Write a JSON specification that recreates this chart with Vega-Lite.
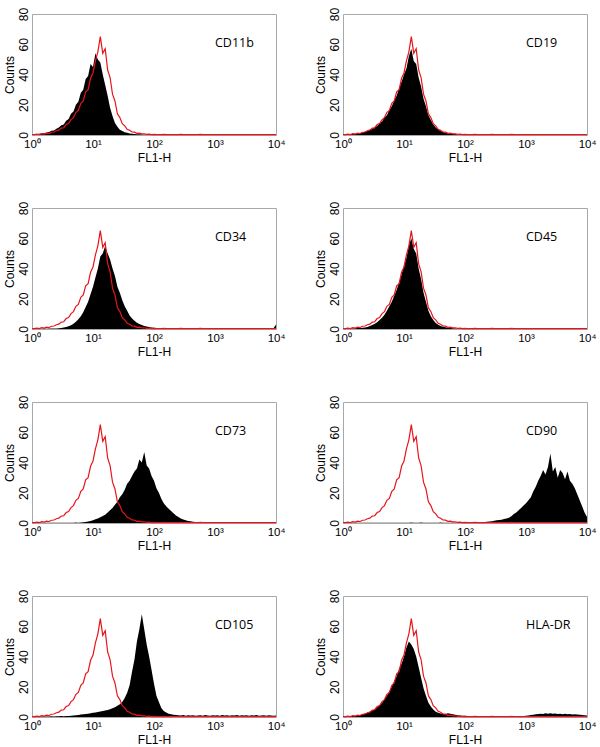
{
"$schema": "https://vega.github.io/schema/vega-lite/v6.json",
"padding": {"left": 2, "top": 6, "right": 3, "bottom": 0},
"datasets": {"h": [
{"x":1,"iso":0.3,"CD11b":0.3,"CD19":0.2,"CD34":0.1,"CD45":0.2,"CD73":0.1,"CD90":0.1,"CD105":0.2,"HLA-DR":0.2},
{"x":1.096,"iso":0.2,"CD11b":0.5,"CD19":0.3,"CD34":0.2,"CD45":0.2,"CD73":0.2,"CD90":0.1,"CD105":0.3,"HLA-DR":0.3},
{"x":1.202,"iso":0.6,"CD11b":0.4,"CD19":0.2,"CD34":0.1,"CD45":0.3,"CD73":0.1,"CD90":0.2,"CD105":0.2,"HLA-DR":0.4},
{"x":1.318,"iso":0.3,"CD11b":0.8,"CD19":0.5,"CD34":0.2,"CD45":0.3,"CD73":0.2,"CD90":0.1,"CD105":0.3,"HLA-DR":0.5},
{"x":1.445,"iso":0.9,"CD11b":1.0,"CD19":0.6,"CD34":0.2,"CD45":0.4,"CD73":0.1,"CD90":0.1,"CD105":0.3,"HLA-DR":0.7},
{"x":1.585,"iso":0.6,"CD11b":1.2,"CD19":0.8,"CD34":0.3,"CD45":0.5,"CD73":0.2,"CD90":0.2,"CD105":0.4,"HLA-DR":0.9},
{"x":1.738,"iso":1.2,"CD11b":1.6,"CD19":1.0,"CD34":0.2,"CD45":0.6,"CD73":0.1,"CD90":0.1,"CD105":0.3,"HLA-DR":1.1},
{"x":1.905,"iso":1.0,"CD11b":2.0,"CD19":1.3,"CD34":0.3,"CD45":0.7,"CD73":0.2,"CD90":0.1,"CD105":0.4,"HLA-DR":1.4},
{"x":2.089,"iso":1.8,"CD11b":2.8,"CD19":1.6,"CD34":0.3,"CD45":0.8,"CD73":0.1,"CD90":0.2,"CD105":0.5,"HLA-DR":1.8},
{"x":2.291,"iso":2.0,"CD11b":3.0,"CD19":2.2,"CD34":0.3,"CD45":1.0,"CD73":0.2,"CD90":0.1,"CD105":0.4,"HLA-DR":2.3},
{"x":2.512,"iso":2.8,"CD11b":4.2,"CD19":2.6,"CD34":0.4,"CD45":1.4,"CD73":0.1,"CD90":0.1,"CD105":0.5,"HLA-DR":2.8},
{"x":2.754,"iso":3.2,"CD11b":5.0,"CD19":3.4,"CD34":0.5,"CD45":2.0,"CD73":0.2,"CD90":0.2,"CD105":0.5,"HLA-DR":3.5},
{"x":3.02,"iso":4.6,"CD11b":6.5,"CD19":4.0,"CD34":0.7,"CD45":2.6,"CD73":0.1,"CD90":0.1,"CD105":0.6,"HLA-DR":4.3},
{"x":3.311,"iso":4.8,"CD11b":7.0,"CD19":5.2,"CD34":1.0,"CD45":3.5,"CD73":0.2,"CD90":0.1,"CD105":0.5,"HLA-DR":5.2},
{"x":3.631,"iso":6.9,"CD11b":9.5,"CD19":6.0,"CD34":1.3,"CD45":4.5,"CD73":0.2,"CD90":0.2,"CD105":0.6,"HLA-DR":6.3},
{"x":3.981,"iso":7.6,"CD11b":10.5,"CD19":7.8,"CD34":1.8,"CD45":6.0,"CD73":0.1,"CD90":0.1,"CD105":0.6,"HLA-DR":7.8},
{"x":4.365,"iso":10.2,"CD11b":14,"CD19":9.0,"CD34":2.5,"CD45":7.5,"CD73":0.2,"CD90":0.1,"CD105":0.8,"HLA-DR":9.5},
{"x":4.786,"iso":11.5,"CD11b":15.5,"CD19":11.5,"CD34":3.5,"CD45":9.5,"CD73":0.2,"CD90":0.2,"CD105":1.0,"HLA-DR":11.5},
{"x":5.248,"iso":15,"CD11b":20,"CD19":13,"CD34":4.8,"CD45":12,"CD73":0.3,"CD90":0.1,"CD105":1.2,"HLA-DR":14},
{"x":5.754,"iso":16.2,"CD11b":22,"CD19":16.5,"CD34":6.5,"CD45":15,"CD73":0.2,"CD90":0.1,"CD105":1.4,"HLA-DR":17},
{"x":6.31,"iso":21,"CD11b":28,"CD19":19,"CD34":8.5,"CD45":18,"CD73":0.3,"CD90":0.2,"CD105":1.6,"HLA-DR":20},
{"x":6.918,"iso":22.5,"CD11b":30,"CD19":23,"CD34":11,"CD45":22,"CD73":0.5,"CD90":0.1,"CD105":1.8,"HLA-DR":24},
{"x":7.586,"iso":28.5,"CD11b":37,"CD19":26,"CD34":14.5,"CD45":26,"CD73":0.7,"CD90":0.1,"CD105":2.0,"HLA-DR":27},
{"x":8.318,"iso":30,"CD11b":39,"CD19":31,"CD34":18,"CD45":31,"CD73":1.0,"CD90":0.2,"CD105":2.2,"HLA-DR":32},
{"x":9.12,"iso":37.5,"CD11b":47,"CD19":35,"CD34":23,"CD45":36,"CD73":1.3,"CD90":0.1,"CD105":2.5,"HLA-DR":35},
{"x":10,"iso":41,"CD11b":45,"CD19":40,"CD34":28,"CD45":42,"CD73":1.8,"CD90":0.2,"CD105":2.8,"HLA-DR":40},
{"x":10.96,"iso":49,"CD11b":54,"CD19":44,"CD34":34,"CD45":47,"CD73":2.4,"CD90":0.1,"CD105":3.0,"HLA-DR":46},
{"x":12.02,"iso":55,"CD11b":50,"CD19":52,"CD34":40,"CD45":55,"CD73":3.0,"CD90":0.2,"CD105":3.3,"HLA-DR":50},
{"x":13.18,"iso":65,"CD11b":48,"CD19":57,"CD34":48,"CD45":60,"CD73":3.8,"CD90":0.3,"CD105":3.6,"HLA-DR":48},
{"x":14.45,"iso":54,"CD11b":40,"CD19":49,"CD34":50,"CD45":53,"CD73":4.6,"CD90":0.2,"CD105":4.0,"HLA-DR":45},
{"x":15.85,"iso":57,"CD11b":33,"CD19":47,"CD34":55,"CD45":50,"CD73":5.5,"CD90":0.1,"CD105":4.3,"HLA-DR":40},
{"x":17.38,"iso":43,"CD11b":26,"CD19":38,"CD34":50,"CD45":40,"CD73":7.0,"CD90":0.2,"CD105":4.7,"HLA-DR":33},
{"x":19.05,"iso":38,"CD11b":18,"CD19":32,"CD34":46,"CD45":33,"CD73":8.5,"CD90":0.3,"CD105":5.2,"HLA-DR":26},
{"x":20.89,"iso":27,"CD11b":12.5,"CD19":24,"CD34":40,"CD45":24,"CD73":10,"CD90":0.2,"CD105":5.8,"HLA-DR":19},
{"x":22.91,"iso":22.5,"CD11b":8,"CD19":19,"CD34":35,"CD45":18,"CD73":12,"CD90":0.1,"CD105":6.5,"HLA-DR":14},
{"x":25.12,"iso":14,"CD11b":5.5,"CD19":13,"CD34":28,"CD45":12,"CD73":14,"CD90":0.2,"CD105":7.5,"HLA-DR":9.5},
{"x":27.54,"iso":11.5,"CD11b":3.5,"CD19":10,"CD34":24,"CD45":8.5,"CD73":17,"CD90":0.1,"CD105":8.5,"HLA-DR":7},
{"x":30.2,"iso":7.5,"CD11b":2.6,"CD19":7,"CD34":19,"CD45":6,"CD73":19,"CD90":0.2,"CD105":10,"HLA-DR":5},
{"x":33.11,"iso":6,"CD11b":1.8,"CD19":5,"CD34":15,"CD45":4,"CD73":22,"CD90":0.1,"CD105":12.5,"HLA-DR":3.5},
{"x":36.31,"iso":3.8,"CD11b":1.5,"CD19":3.6,"CD34":12,"CD45":2.8,"CD73":26,"CD90":0.2,"CD105":16,"HLA-DR":2.8},
{"x":39.81,"iso":3.2,"CD11b":1.0,"CD19":2.6,"CD34":9,"CD45":2.0,"CD73":28,"CD90":0.3,"CD105":21,"HLA-DR":2.3},
{"x":43.65,"iso":2.0,"CD11b":0.8,"CD19":2.0,"CD34":7,"CD45":1.5,"CD73":31,"CD90":0.2,"CD105":30,"HLA-DR":2.0},
{"x":47.86,"iso":1.9,"CD11b":0.7,"CD19":1.5,"CD34":5.5,"CD45":1.1,"CD73":34,"CD90":0.1,"CD105":38,"HLA-DR":2.0},
{"x":52.48,"iso":1.1,"CD11b":0.5,"CD19":1.2,"CD34":4.2,"CD45":0.8,"CD73":36,"CD90":0.2,"CD105":50,"HLA-DR":2.4},
{"x":57.54,"iso":1.2,"CD11b":0.5,"CD19":0.9,"CD34":3.3,"CD45":0.6,"CD73":42,"CD90":0.1,"CD105":58,"HLA-DR":2.2},
{"x":63.1,"iso":0.7,"CD11b":0.3,"CD19":0.8,"CD34":2.6,"CD45":0.5,"CD73":40,"CD90":0.2,"CD105":68,"HLA-DR":1.8},
{"x":69.18,"iso":0.8,"CD11b":0.2,"CD19":0.6,"CD34":2.0,"CD45":0.3,"CD73":47,"CD90":0.1,"CD105":58,"HLA-DR":1.5},
{"x":75.86,"iso":0.4,"CD11b":0.3,"CD19":0.5,"CD34":1.6,"CD45":0.2,"CD73":38,"CD90":0.2,"CD105":48,"HLA-DR":1.2},
{"x":83.18,"iso":0.6,"CD11b":0.2,"CD19":0.4,"CD34":1.3,"CD45":0.3,"CD73":36,"CD90":0.1,"CD105":40,"HLA-DR":1.0},
{"x":91.2,"iso":0.3,"CD11b":0.5,"CD19":0.4,"CD34":1.0,"CD45":0.2,"CD73":31,"CD90":0.2,"CD105":31,"HLA-DR":0.9},
{"x":100,"iso":0.4,"CD11b":0.2,"CD19":0.3,"CD34":0.8,"CD45":0.3,"CD73":28,"CD90":0.3,"CD105":22,"HLA-DR":0.8},
{"x":109.6,"iso":0.2,"CD11b":0.3,"CD19":0.2,"CD34":0.7,"CD45":0.2,"CD73":23,"CD90":0.2,"CD105":14,"HLA-DR":0.7},
{"x":120.2,"iso":0.3,"CD11b":0.2,"CD19":0.3,"CD34":0.6,"CD45":0.2,"CD73":20,"CD90":0.1,"CD105":10,"HLA-DR":0.6},
{"x":131.8,"iso":0.2,"CD11b":0.2,"CD19":0.2,"CD34":0.5,"CD45":0.3,"CD73":16,"CD90":0.2,"CD105":6,"HLA-DR":0.5},
{"x":144.5,"iso":0.4,"CD11b":0.3,"CD19":0.2,"CD34":0.4,"CD45":0.2,"CD73":13,"CD90":0.3,"CD105":4,"HLA-DR":0.5},
{"x":158.5,"iso":0.2,"CD11b":0.2,"CD19":0.3,"CD34":0.3,"CD45":0.2,"CD73":11,"CD90":0.2,"CD105":3,"HLA-DR":0.4},
{"x":173.8,"iso":0.3,"CD11b":0.2,"CD19":0.2,"CD34":0.3,"CD45":0.3,"CD73":9.5,"CD90":0.4,"CD105":2.2,"HLA-DR":0.4},
{"x":190.5,"iso":0.2,"CD11b":0.3,"CD19":0.2,"CD34":0.2,"CD45":0.2,"CD73":8,"CD90":0.5,"CD105":1.8,"HLA-DR":0.3},
{"x":208.9,"iso":0.2,"CD11b":0.2,"CD19":0.3,"CD34":0.3,"CD45":0.2,"CD73":6.5,"CD90":0.6,"CD105":1.5,"HLA-DR":0.5},
{"x":229.1,"iso":0.3,"CD11b":0.2,"CD19":0.2,"CD34":0.2,"CD45":0.3,"CD73":5,"CD90":0.8,"CD105":1.3,"HLA-DR":0.3},
{"x":251.2,"iso":0.2,"CD11b":0.3,"CD19":0.2,"CD34":0.3,"CD45":0.2,"CD73":4,"CD90":1.0,"CD105":1.2,"HLA-DR":0.4},
{"x":275.4,"iso":0.4,"CD11b":0.2,"CD19":0.3,"CD34":0.2,"CD45":0.2,"CD73":3,"CD90":1.2,"CD105":1.0,"HLA-DR":0.3},
{"x":302,"iso":0.2,"CD11b":0.2,"CD19":0.2,"CD34":0.3,"CD45":0.3,"CD73":2.3,"CD90":1.5,"CD105":1.3,"HLA-DR":0.4},
{"x":331.1,"iso":0.3,"CD11b":0.5,"CD19":0.2,"CD34":0.2,"CD45":0.2,"CD73":1.8,"CD90":1.8,"CD105":0.9,"HLA-DR":0.3},
{"x":363.1,"iso":0.2,"CD11b":0.2,"CD19":0.3,"CD34":0.2,"CD45":0.2,"CD73":1.4,"CD90":2.0,"CD105":1.1,"HLA-DR":0.5},
{"x":398.1,"iso":0.2,"CD11b":0.2,"CD19":0.2,"CD34":0.3,"CD45":0.3,"CD73":1.1,"CD90":2.2,"CD105":1.0,"HLA-DR":0.4},
{"x":436.5,"iso":0.3,"CD11b":0.3,"CD19":0.2,"CD34":0.2,"CD45":0.2,"CD73":0.9,"CD90":2.6,"CD105":1.2,"HLA-DR":0.3},
{"x":478.6,"iso":0.2,"CD11b":0.2,"CD19":0.3,"CD34":0.2,"CD45":0.2,"CD73":0.7,"CD90":3.0,"CD105":0.8,"HLA-DR":0.4},
{"x":524.8,"iso":0.2,"CD11b":0.2,"CD19":0.2,"CD34":0.3,"CD45":0.3,"CD73":0.5,"CD90":3.5,"CD105":1.0,"HLA-DR":0.3},
{"x":575.4,"iso":0.4,"CD11b":0.2,"CD19":0.2,"CD34":0.2,"CD45":0.2,"CD73":0.4,"CD90":4.5,"CD105":1.1,"HLA-DR":0.5},
{"x":631,"iso":0.2,"CD11b":0.3,"CD19":0.3,"CD34":0.2,"CD45":0.2,"CD73":0.3,"CD90":6,"CD105":0.9,"HLA-DR":0.4},
{"x":691.8,"iso":0.3,"CD11b":0.2,"CD19":0.2,"CD34":0.3,"CD45":0.3,"CD73":0.2,"CD90":7,"CD105":1.3,"HLA-DR":0.3},
{"x":758.6,"iso":0.2,"CD11b":0.2,"CD19":0.2,"CD34":0.2,"CD45":0.2,"CD73":0.3,"CD90":8.5,"CD105":1.0,"HLA-DR":0.4},
{"x":831.8,"iso":0.2,"CD11b":0.2,"CD19":0.3,"CD34":0.2,"CD45":0.2,"CD73":0.2,"CD90":10,"CD105":0.8,"HLA-DR":0.5},
{"x":912,"iso":0.3,"CD11b":0.2,"CD19":0.2,"CD34":0.3,"CD45":0.2,"CD73":0.2,"CD90":11.5,"CD105":1.1,"HLA-DR":0.6},
{"x":1000,"iso":0.2,"CD11b":0.3,"CD19":0.2,"CD34":0.2,"CD45":0.3,"CD73":0.1,"CD90":13,"CD105":1.0,"HLA-DR":0.8},
{"x":1096,"iso":0.2,"CD11b":0.2,"CD19":0.2,"CD34":0.2,"CD45":0.2,"CD73":0.2,"CD90":15,"CD105":1.2,"HLA-DR":1.0},
{"x":1202,"iso":0.3,"CD11b":0.2,"CD19":0.3,"CD34":0.3,"CD45":0.2,"CD73":0.1,"CD90":17,"CD105":0.9,"HLA-DR":1.3},
{"x":1318,"iso":0.2,"CD11b":0.2,"CD19":0.2,"CD34":0.2,"CD45":0.2,"CD73":0.2,"CD90":21,"CD105":1.4,"HLA-DR":1.5},
{"x":1445,"iso":0.2,"CD11b":0.2,"CD19":0.2,"CD34":0.2,"CD45":0.3,"CD73":0.1,"CD90":24,"CD105":1.0,"HLA-DR":1.8},
{"x":1585,"iso":0.3,"CD11b":0.3,"CD19":0.3,"CD34":0.3,"CD45":0.2,"CD73":0.2,"CD90":28,"CD105":1.1,"HLA-DR":2.0},
{"x":1738,"iso":0.2,"CD11b":0.2,"CD19":0.2,"CD34":0.2,"CD45":0.2,"CD73":0.1,"CD90":31,"CD105":0.8,"HLA-DR":2.2},
{"x":1905,"iso":0.2,"CD11b":0.2,"CD19":0.2,"CD34":0.2,"CD45":0.2,"CD73":0.2,"CD90":35,"CD105":1.2,"HLA-DR":2.0},
{"x":2089,"iso":0.3,"CD11b":0.2,"CD19":0.2,"CD34":0.3,"CD45":0.3,"CD73":0.1,"CD90":32,"CD105":1.0,"HLA-DR":2.4},
{"x":2291,"iso":0.2,"CD11b":0.2,"CD19":0.3,"CD34":0.2,"CD45":0.2,"CD73":0.2,"CD90":37,"CD105":1.3,"HLA-DR":2.2},
{"x":2512,"iso":0.2,"CD11b":0.3,"CD19":0.2,"CD34":0.2,"CD45":0.2,"CD73":0.1,"CD90":46,"CD105":0.9,"HLA-DR":2.5},
{"x":2754,"iso":0.3,"CD11b":0.2,"CD19":0.2,"CD34":0.3,"CD45":0.2,"CD73":0.2,"CD90":34,"CD105":1.1,"HLA-DR":2.1},
{"x":3020,"iso":0.2,"CD11b":0.2,"CD19":0.2,"CD34":0.2,"CD45":0.3,"CD73":0.1,"CD90":37,"CD105":1.0,"HLA-DR":2.3},
{"x":3311,"iso":0.2,"CD11b":0.2,"CD19":0.3,"CD34":0.2,"CD45":0.2,"CD73":0.2,"CD90":30,"CD105":1.2,"HLA-DR":2.0},
{"x":3631,"iso":0.3,"CD11b":0.2,"CD19":0.2,"CD34":0.3,"CD45":0.2,"CD73":0.1,"CD90":35,"CD105":0.8,"HLA-DR":2.2},
{"x":3981,"iso":0.2,"CD11b":0.3,"CD19":0.2,"CD34":0.2,"CD45":0.2,"CD73":0.2,"CD90":33,"CD105":1.1,"HLA-DR":1.9},
{"x":4365,"iso":0.2,"CD11b":0.2,"CD19":0.2,"CD34":0.2,"CD45":0.3,"CD73":0.1,"CD90":29,"CD105":1.0,"HLA-DR":2.1},
{"x":4786,"iso":0.3,"CD11b":0.2,"CD19":0.3,"CD34":0.3,"CD45":0.2,"CD73":0.2,"CD90":34,"CD105":1.3,"HLA-DR":1.8},
{"x":5248,"iso":0.2,"CD11b":0.2,"CD19":0.2,"CD34":0.2,"CD45":0.2,"CD73":0.1,"CD90":28,"CD105":0.9,"HLA-DR":2.0},
{"x":5754,"iso":0.2,"CD11b":0.2,"CD19":0.2,"CD34":0.2,"CD45":0.2,"CD73":0.2,"CD90":26,"CD105":1.0,"HLA-DR":1.7},
{"x":6310,"iso":0.3,"CD11b":0.3,"CD19":0.2,"CD34":0.3,"CD45":0.3,"CD73":0.1,"CD90":23,"CD105":1.2,"HLA-DR":1.8},
{"x":6918,"iso":0.2,"CD11b":0.2,"CD19":0.3,"CD34":0.2,"CD45":0.2,"CD73":0.2,"CD90":19,"CD105":0.9,"HLA-DR":1.6},
{"x":7586,"iso":0.2,"CD11b":0.2,"CD19":0.2,"CD34":0.2,"CD45":0.2,"CD73":0.1,"CD90":15,"CD105":1.1,"HLA-DR":1.5},
{"x":8318,"iso":0.3,"CD11b":0.2,"CD19":0.2,"CD34":0.3,"CD45":0.2,"CD73":0.2,"CD90":11,"CD105":1.0,"HLA-DR":1.4},
{"x":9120,"iso":0.2,"CD11b":0.2,"CD19":0.2,"CD34":0.5,"CD45":0.2,"CD73":0.1,"CD90":7,"CD105":0.8,"HLA-DR":1.2},
{"x":10000,"iso":0.2,"CD11b":0.2,"CD19":0.2,"CD34":3,"CD45":0.2,"CD73":0.2,"CD90":4,"CD105":1.0,"HLA-DR":1.0}
]},
"data": {"name": "h"},
"spacing": 36,
"vconcat": [
{"spacing": 27, "hconcat": [
{"width": 244, "height": 121, "layer": [
 {"mark": {"type": "area", "color": "#000000"}, "encoding": {"x": {"field": "x", "type": "quantitative", "scale": {"type": "log", "domain": [1, 10000]}, "axis": {"title": "FL1-H", "values": [1, 10, 100, 1000, 10000], "labelExpr": "'10' + (datum.value == 1 ? '⁰' : datum.value == 10 ? '¹' : datum.value == 100 ? '²' : datum.value == 1000 ? '³' : '⁴')"}}, "y": {"field": "CD11b", "type": "quantitative", "scale": {"domain": [0, 80]}, "axis": {"title": "Counts", "values": [0, 20, 40, 60, 80], "tickCount": 5}}}},
 {"mark": {"type": "line", "color": "#e8141c", "strokeWidth": 1.2}, "encoding": {"x": {"field": "x", "type": "quantitative"}, "y": {"field": "iso", "type": "quantitative"}}},
 {"data": {"values": [{"label": "CD11b"}]}, "mark": {"type": "text", "align": "left", "baseline": "middle", "font": "Open Sans", "fontSize": 12.5, "color": "#000000"}, "encoding": {"x": {"datum": 1000}, "y": {"datum": 61}, "text": {"field": "label"}}}
]},
{"width": 244, "height": 121, "layer": [
 {"mark": {"type": "area", "color": "#000000"}, "encoding": {"x": {"field": "x", "type": "quantitative", "scale": {"type": "log", "domain": [1, 10000]}, "axis": {"title": "FL1-H", "values": [1, 10, 100, 1000, 10000], "labelExpr": "'10' + (datum.value == 1 ? '⁰' : datum.value == 10 ? '¹' : datum.value == 100 ? '²' : datum.value == 1000 ? '³' : '⁴')"}}, "y": {"field": "CD19", "type": "quantitative", "scale": {"domain": [0, 80]}, "axis": {"title": "Counts", "values": [0, 20, 40, 60, 80], "tickCount": 5}}}},
 {"mark": {"type": "line", "color": "#e8141c", "strokeWidth": 1.2}, "encoding": {"x": {"field": "x", "type": "quantitative"}, "y": {"field": "iso", "type": "quantitative"}}},
 {"data": {"values": [{"label": "CD19"}]}, "mark": {"type": "text", "align": "left", "baseline": "middle", "font": "Open Sans", "fontSize": 12.5, "color": "#000000"}, "encoding": {"x": {"datum": 1000}, "y": {"datum": 61}, "text": {"field": "label"}}}
]}
]},
{"spacing": 27, "hconcat": [
{"width": 244, "height": 121, "layer": [
 {"mark": {"type": "area", "color": "#000000"}, "encoding": {"x": {"field": "x", "type": "quantitative", "scale": {"type": "log", "domain": [1, 10000]}, "axis": {"title": "FL1-H", "values": [1, 10, 100, 1000, 10000], "labelExpr": "'10' + (datum.value == 1 ? '⁰' : datum.value == 10 ? '¹' : datum.value == 100 ? '²' : datum.value == 1000 ? '³' : '⁴')"}}, "y": {"field": "CD34", "type": "quantitative", "scale": {"domain": [0, 80]}, "axis": {"title": "Counts", "values": [0, 20, 40, 60, 80], "tickCount": 5}}}},
 {"mark": {"type": "line", "color": "#e8141c", "strokeWidth": 1.2}, "encoding": {"x": {"field": "x", "type": "quantitative"}, "y": {"field": "iso", "type": "quantitative"}}},
 {"data": {"values": [{"label": "CD34"}]}, "mark": {"type": "text", "align": "left", "baseline": "middle", "font": "Open Sans", "fontSize": 12.5, "color": "#000000"}, "encoding": {"x": {"datum": 1000}, "y": {"datum": 61}, "text": {"field": "label"}}}
]},
{"width": 244, "height": 121, "layer": [
 {"mark": {"type": "area", "color": "#000000"}, "encoding": {"x": {"field": "x", "type": "quantitative", "scale": {"type": "log", "domain": [1, 10000]}, "axis": {"title": "FL1-H", "values": [1, 10, 100, 1000, 10000], "labelExpr": "'10' + (datum.value == 1 ? '⁰' : datum.value == 10 ? '¹' : datum.value == 100 ? '²' : datum.value == 1000 ? '³' : '⁴')"}}, "y": {"field": "CD45", "type": "quantitative", "scale": {"domain": [0, 80]}, "axis": {"title": "Counts", "values": [0, 20, 40, 60, 80], "tickCount": 5}}}},
 {"mark": {"type": "line", "color": "#e8141c", "strokeWidth": 1.2}, "encoding": {"x": {"field": "x", "type": "quantitative"}, "y": {"field": "iso", "type": "quantitative"}}},
 {"data": {"values": [{"label": "CD45"}]}, "mark": {"type": "text", "align": "left", "baseline": "middle", "font": "Open Sans", "fontSize": 12.5, "color": "#000000"}, "encoding": {"x": {"datum": 1000}, "y": {"datum": 61}, "text": {"field": "label"}}}
]}
]},
{"spacing": 27, "hconcat": [
{"width": 244, "height": 121, "layer": [
 {"mark": {"type": "area", "color": "#000000"}, "encoding": {"x": {"field": "x", "type": "quantitative", "scale": {"type": "log", "domain": [1, 10000]}, "axis": {"title": "FL1-H", "values": [1, 10, 100, 1000, 10000], "labelExpr": "'10' + (datum.value == 1 ? '⁰' : datum.value == 10 ? '¹' : datum.value == 100 ? '²' : datum.value == 1000 ? '³' : '⁴')"}}, "y": {"field": "CD73", "type": "quantitative", "scale": {"domain": [0, 80]}, "axis": {"title": "Counts", "values": [0, 20, 40, 60, 80], "tickCount": 5}}}},
 {"mark": {"type": "line", "color": "#e8141c", "strokeWidth": 1.2}, "encoding": {"x": {"field": "x", "type": "quantitative"}, "y": {"field": "iso", "type": "quantitative"}}},
 {"data": {"values": [{"label": "CD73"}]}, "mark": {"type": "text", "align": "left", "baseline": "middle", "font": "Open Sans", "fontSize": 12.5, "color": "#000000"}, "encoding": {"x": {"datum": 1000}, "y": {"datum": 61}, "text": {"field": "label"}}}
]},
{"width": 244, "height": 121, "layer": [
 {"mark": {"type": "area", "color": "#000000"}, "encoding": {"x": {"field": "x", "type": "quantitative", "scale": {"type": "log", "domain": [1, 10000]}, "axis": {"title": "FL1-H", "values": [1, 10, 100, 1000, 10000], "labelExpr": "'10' + (datum.value == 1 ? '⁰' : datum.value == 10 ? '¹' : datum.value == 100 ? '²' : datum.value == 1000 ? '³' : '⁴')"}}, "y": {"field": "CD90", "type": "quantitative", "scale": {"domain": [0, 80]}, "axis": {"title": "Counts", "values": [0, 20, 40, 60, 80], "tickCount": 5}}}},
 {"mark": {"type": "line", "color": "#e8141c", "strokeWidth": 1.2}, "encoding": {"x": {"field": "x", "type": "quantitative"}, "y": {"field": "iso", "type": "quantitative"}}},
 {"data": {"values": [{"label": "CD90"}]}, "mark": {"type": "text", "align": "left", "baseline": "middle", "font": "Open Sans", "fontSize": 12.5, "color": "#000000"}, "encoding": {"x": {"datum": 1000}, "y": {"datum": 61}, "text": {"field": "label"}}}
]}
]},
{"spacing": 27, "hconcat": [
{"width": 244, "height": 121, "layer": [
 {"mark": {"type": "area", "color": "#000000"}, "encoding": {"x": {"field": "x", "type": "quantitative", "scale": {"type": "log", "domain": [1, 10000]}, "axis": {"title": "FL1-H", "values": [1, 10, 100, 1000, 10000], "labelExpr": "'10' + (datum.value == 1 ? '⁰' : datum.value == 10 ? '¹' : datum.value == 100 ? '²' : datum.value == 1000 ? '³' : '⁴')"}}, "y": {"field": "CD105", "type": "quantitative", "scale": {"domain": [0, 80]}, "axis": {"title": "Counts", "values": [0, 20, 40, 60, 80], "tickCount": 5}}}},
 {"mark": {"type": "line", "color": "#e8141c", "strokeWidth": 1.2}, "encoding": {"x": {"field": "x", "type": "quantitative"}, "y": {"field": "iso", "type": "quantitative"}}},
 {"data": {"values": [{"label": "CD105"}]}, "mark": {"type": "text", "align": "left", "baseline": "middle", "font": "Open Sans", "fontSize": 12.5, "color": "#000000"}, "encoding": {"x": {"datum": 1000}, "y": {"datum": 61}, "text": {"field": "label"}}}
]},
{"width": 244, "height": 121, "layer": [
 {"mark": {"type": "area", "color": "#000000"}, "encoding": {"x": {"field": "x", "type": "quantitative", "scale": {"type": "log", "domain": [1, 10000]}, "axis": {"title": "FL1-H", "values": [1, 10, 100, 1000, 10000], "labelExpr": "'10' + (datum.value == 1 ? '⁰' : datum.value == 10 ? '¹' : datum.value == 100 ? '²' : datum.value == 1000 ? '³' : '⁴')"}}, "y": {"field": "HLA-DR", "type": "quantitative", "scale": {"domain": [0, 80]}, "axis": {"title": "Counts", "values": [0, 20, 40, 60, 80], "tickCount": 5}}}},
 {"mark": {"type": "line", "color": "#e8141c", "strokeWidth": 1.2}, "encoding": {"x": {"field": "x", "type": "quantitative"}, "y": {"field": "iso", "type": "quantitative"}}},
 {"data": {"values": [{"label": "HLA-DR"}]}, "mark": {"type": "text", "align": "left", "baseline": "middle", "font": "Open Sans", "fontSize": 12.5, "color": "#000000"}, "encoding": {"x": {"datum": 1000}, "y": {"datum": 61}, "text": {"field": "label"}}}
]}
]}
],
"config": {
  "view": {"stroke": "#a8a8a8", "strokeWidth": 1},
  "axis": {"grid": false, "ticks": false, "domain": false, "labelColor": "#000000", "titleColor": "#000000",
           "labelFont": "Liberation Sans", "titleFont": "Liberation Sans", "labelFontSize": 12, "titleFontSize": 12,
           "titleFontWeight": "normal", "labelFlush": false, "labelOverlap": false},
  "axisX": {"labelPadding": 3, "titlePadding": 3, "labelFontSize": 11.5},
  "axisY": {"labelPadding": 2, "titlePadding": 1, "labelAngle": 270}
}
}
